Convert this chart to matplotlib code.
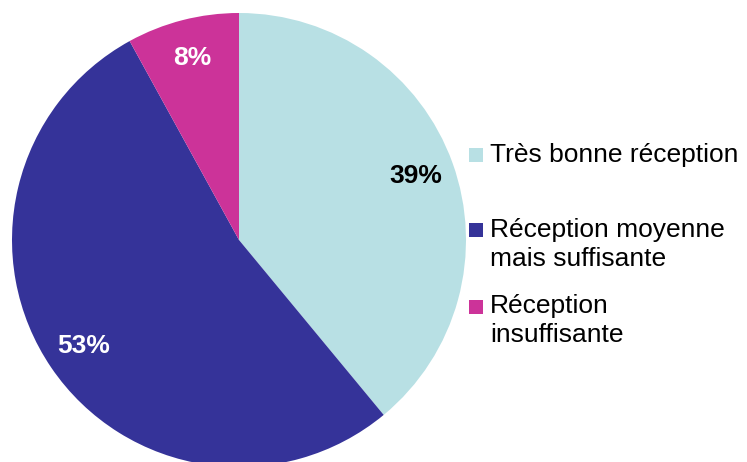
import matplotlib.pyplot as plt
from matplotlib.patches import Rectangle

categories = ["Très bonne réception", "Réception moyenne\nmais suffisante", "Réception\ninsuffisante"]
values = [39, 53, 8]
colors = ["#B8E0E4", "#353399", "#CC3399"]
label_colors = ["black", "white", "white"]

plt.rcParams['font.family'] = ['Liberation Sans', 'DejaVu Sans']

fig = plt.figure(figsize=(7.47, 4.62), dpi=100)
ax = fig.add_axes([0, 0, 1, 1])

# pie in pixel-like coordinates: centre (239, 240 from top), radius 227
wedges, texts, autotexts = ax.pie(values, colors=colors, startangle=90, counterclock=False,
                                  center=(239, 462 - 240), radius=227,
                                  autopct='%1.0f%%', pctdistance=0.83,
                                  wedgeprops=dict(linewidth=0))
for t, c in zip(autotexts, label_colors):
    t.set_color(c)
    t.set_fontsize(19)
    t.set_fontweight('bold')

ax.set_xlim(0, 747)
ax.set_ylim(0, 462)
ax.set_aspect('auto')
ax.axis('off')

# legende faite a la main (espacement irregulier dans l'original)
sq_top = [148, 223, 300]
first_base = [162, 237, 313]
line_h = 29.5
for i, lab in enumerate(categories):
    fig.add_artist(Rectangle((469 / 747, 1 - (sq_top[i] + 14) / 462), 14 / 747, 14 / 462,
                             transform=fig.transFigure, color=colors[i], lw=0))
    for j, line in enumerate(lab.split("\n")):
        fig.text(490 / 747, 1 - (first_base[i] + j * line_h) / 462, line,
                 fontsize=19, va='baseline', ha='left', color='black')

fig.savefig("out.png", dpi=100)
